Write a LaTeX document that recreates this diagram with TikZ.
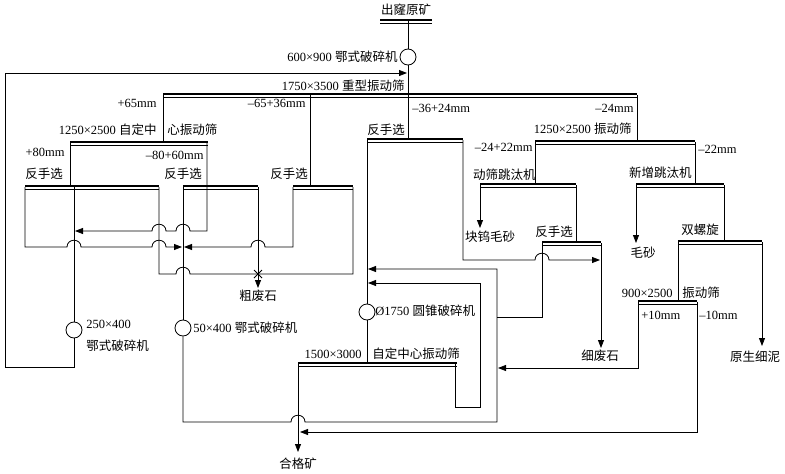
\documentclass[tikz,border=0pt]{standalone}
\usepackage{fontspec}
\setmainfont{Liberation Serif}
\newfontfamily\cjk{Noto Sans CJK SC}
\usetikzlibrary{arrows.meta}
\newcommand{\screenbar}[4]{%
  \coordinate (#1L) at (#2,#4); \coordinate (#1R) at (#3,#4);
  \draw[line width=2.4pt] (#2,#4-1) -- (#3,#4-1);
  \draw[line width=0.7pt] (#2,#4+2) -- (#3,#4+2);
}
\begin{document}
\begin{tikzpicture}[x=1pt,y=-1pt,line width=0.8pt,
  lab/.style={inner sep=0pt,font=\fontsize{12.5}{14}\selectfont},
  arr/.style={-{Triangle[length=8pt,width=6pt]}},
  unit/.style={circle,draw,inner sep=0pt,minimum size=16pt,fill=white},
  hopr/.style 2 args={insert path={-- (#1-7,#2) .. controls (#1-7,#2-9) and (#1+7,#2-9) .. (#1+7,#2)}},
  hopl/.style 2 args={insert path={-- (#1+7,#2) .. controls (#1+7,#2-9) and (#1-7,#2-9) .. (#1-7,#2)}}]
\useasboundingbox (0,0) rectangle (785,474);
% screens / picking belts
\screenbar{top}{380}{432}{21}
\screenbar{heavy}{163}{637}{95}
\screenbar{sa}{70}{208}{143}
\screenbar{sb}{535}{695}{142}
\screenbar{pa}{25}{159}{187}
\screenbar{pb}{183}{258}{187}
\screenbar{pc}{293}{353}{187}
\screenbar{pd}{367}{463}{140}
\screenbar{ja}{480}{576}{185}
\screenbar{jb}{636}{724}{185}
\screenbar{pe}{542}{601}{243}
\screenbar{sp}{678}{762}{242}
\screenbar{sv}{638}{697}{302}
\screenbar{sc}{298}{457}{364}
% crushers
\node[unit] (c1) at (408,57) {};
\node[unit] (c2) at (74,330) {};
\node[unit] (c3) at (183,328) {};
\node[unit] (c4) at (367,312) {};
% connectors
\draw (408,21) -- (c1) -- (408,140);
\draw[arr] (c2) -- (74,367) -- (5,367) -- (5,73) -- (407,73);
\draw (163,95) -- (163,143);
\draw (310,95) -- (310,187);
\draw (637,95) -- (637,142);
\draw (70,143) -- (70,187);
\draw[arr] (207,143) -- (207,231) [hopl={183}{231}] [hopl={159}{231}] -- (75,231);
\draw (74,187) -- (c2);
\draw[arr] (25,187) -- (25,247) [hopr={74}{247}] [hopr={159}{247}] -- (182,247);
\draw[arr] (293,187) -- (293,247) [hopl={258}{247}] -- (184,247);
\draw (159,187) -- (159,274) [hopr={183}{274}] -- (353,274) -- (353,187);
\draw[arr] (258,187) -- (258,288);
\draw (254,270) -- (262,278) (254,278) -- (262,270);
\draw (183,187) -- (c3);
\draw[arr] (c3) -- (183,422) [hopr={298}{422}] -- (497,422) -- (497,269) -- (368,269);
\draw (367,140) -- (c4) -- (367,364);
\draw[arr] (463,140) -- (463,260) [hopr={542}{260}] -- (600,260);
\draw (542,243) -- (542,317) -- (497,317);
\draw[arr] (601,243) -- (601,348);
\draw[arr] (455,364) -- (455,407) -- (480,407) -- (480,283) -- (368,283);
\draw[arr] (298,364) -- (298,452);
\draw (535,142) -- (535,185);
\draw (695,142) -- (695,185);
\draw[arr] (480,185) -- (480,228);
\draw (576,185) -- (576,243);
\draw[arr] (636,185) -- (636,243);
\draw (724,185) -- (724,242);
\draw (678,242) -- (678,302);
\draw[arr] (762,242) -- (762,346);
\draw[arr] (638,302) -- (638,368) -- (498,368);
\draw[arr] (697,302) -- (697,432) -- (300,432);
% labels
\node[lab] (t1) at (406,10) {\cjk 出窿原矿};
\node[lab,anchor=east] (t2) at (398,57) {600×900 {\cjk 鄂式破碎机}};
\node[lab,anchor=east] (t3) at (405,86) {1750×3500 {\cjk 重型振动筛}};
\node[lab,anchor=east] (t4) at (157,103) {+65mm};
\node[lab,anchor=east] (t5) at (306,103) {–65+36mm};
\node[lab,anchor=west] (t6) at (412,108) {–36+24mm};
\node[lab,anchor=east] (t7) at (634,108) {–24mm};
\node[lab,anchor=east] (t8) at (157,130) {1250×2500 {\cjk 自定中}};
\node[lab,anchor=west] (t9) at (167,130) {\cjk 心振动筛};
\node[lab,anchor=east] (t10) at (65,152) {+80mm};
\node[lab,anchor=east] (t11) at (204,155) {–80+60mm};
\node[lab] (t12) at (44,174) {\cjk 反手选};
\node[lab] (t13) at (183,174) {\cjk 反手选};
\node[lab] (t14) at (289,174) {\cjk 反手选};
\node[lab] (t15) at (386,130) {\cjk 反手选};
\node[lab,anchor=east] (t16) at (632,129) {1250×2500 {\cjk 振动筛}};
\node[lab,anchor=east] (t17) at (533,147) {–24+22mm};
\node[lab,anchor=west] (t18) at (698,149) {–22mm};
\node[lab,anchor=east] (t19) at (536,175) {\cjk 动筛跳汰机};
\node[lab,anchor=east] (t20) at (692,173) {\cjk 新增跳汰机};
\node[lab] (t21) at (490,237) {\cjk 块钨毛砂};
\node[lab] (t22) at (554,232) {\cjk 反手选};
\node[lab] (t23) at (643,253) {\cjk 毛砂};
\node[lab] (t24) at (700,230) {\cjk 双螺旋};
\node[lab,anchor=east] (t25) at (673,293) {900×2500};
\node[lab,anchor=west] (t26) at (682,293) {\cjk 振动筛};
\node[lab,anchor=west] (t27) at (641,315) {+10mm};
\node[lab,anchor=west] (t28) at (699,315) {–10mm};
\node[lab] (t29) at (755,357) {\cjk 原生细泥};
\node[lab] (t30) at (600,356) {\cjk 细废石};
\node[lab] (t31) at (258,296) {\cjk 粗废石};
\node[lab,anchor=west] (t32) at (86,324) {250×400};
\node[lab,anchor=west] (t33) at (86,346) {\cjk 鄂式破碎机};
\node[lab,anchor=west] (t34) at (193,328) {50×400 {\cjk 鄂式破碎机}};
\node[lab,anchor=west] (t35) at (375,311) {Ø1750 {\cjk 圆锥破碎机}};
\node[lab,anchor=east] (t36) at (362,354) {1500×3000};
\node[lab,anchor=west] (t37) at (372,354) {\cjk 自定中心振动筛};
\node[lab] (t38) at (298,464) {\cjk 合格矿};
\end{tikzpicture}
\end{document}
